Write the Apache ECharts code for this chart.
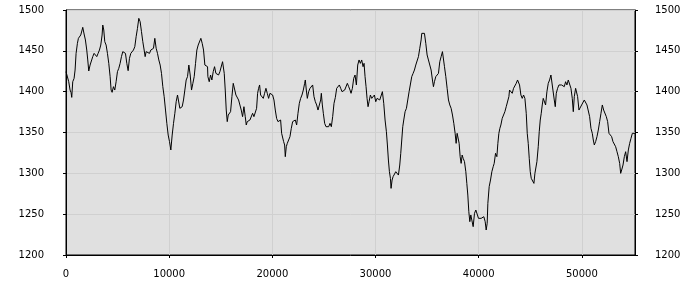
<!DOCTYPE html>
<html>
<head>
<meta charset="utf-8">
<script src="https://cdn.jsdelivr.net/npm/echarts@6/dist/echarts.min.js"></script>
<style>html,body{margin:0;padding:0;background:#fff}#c{width:700px;height:300px}</style>
</head>
<body>
<div id="c"></div>
<script>
var xValues = [0,136,265,395,492,557,654,783,880,977,1106,1203,1300,1430,1559,1624,1753,1882,2012,2109,2206,2335,2497,2594,2723,2853,2982,3111,3241,3370,3499,3564,3661,3758,3888,4017,4146,4276,4373,4470,4599,4728,4858,4987,5116,5246,5375,5505,5634,5763,5893,6022,6151,6281,6410,6539,6669,6798,6927,7057,7186,7316,7445,7574,7671,7768,7898,8092,8221,8350,8480,8609,8739,8868,8997,9127,9256,9385,9515,9644,9773,9903,10032,10161,10291,10420,10550,10679,10808,10938,11035,11132,11261,11390,11520,11649,11778,11908,12037,12167,12296,12425,12555,12684,12813,12943,13072,13201,13331,13460,13590,13719,
13752,13882,14011,14140,14270,14399,14529,14658,14787,14917,15046,15175,15240,15337,15434,15531,15628,15725,15822,15951,16081,16210,16340,16469,16598,16728,16857,16986,17116,17245,17374,17471,17568,17698,17827,17957,18086,18215,18345,18474,18571,18668,18765,18862,18991,19121,19250,19379,19509,19638,19768,19897,20026,20156,20285,20414,20544,20673,20802,20900,20997,21094,21191,21255,21352,21449,21579,21708,21837,21967,22096,22225,22355,22484,22614,22743,22872,23002,23131,23196,23293,23390,23519,23648,23778,23907,24036,24166,24295,24425,24554,24683,24748,24845,24942,25071,25201,25330,25459,25589,25718,25848,25977,26106,26236,26365,26494,26624,26753,26882,27012,27141,27270,27400,27529,
27627,27757,27886,28015,28145,28274,28404,28533,28662,28792,28889,28986,29083,29180,29277,29374,29503,29632,29762,29891,30021,30150,30279,30409,30538,30667,30797,30926,31055,31152,31249,31346,31443,31508,31605,31702,31832,31961,32090,32220,32349,32446,32543,32640,32737,32866,32996,33125,33255,33384,33513,33643,33772,33901,34031,34160,34289,34419,34483,34613,34742,34872,35001,35130,35260,35389,35518,35615,35712,35842,35971,36100,36230,36359,36489,36586,36683,36812,36941,37071,37200,37329,37459,37588,37717,37814,37911,38008,38106,38203,38300,38397,38494,38623,38752,38849,38946,39043,39140,39237,39334,39464,39593,39723,39852,39981,40111,40240,40369,40499,40628,40725,40822,40887,41016,41145,41275,41404,
41503,41633,41762,41859,41956,42053,42150,42280,42409,42538,42668,42797,42926,42991,43120,43250,43379,43508,43638,43767,43864,43961,44091,44220,44349,44479,44608,44705,44802,44899,44996,45093,45222,45352,45449,45546,45643,45772,45869,45966,46063,46160,46257,46354,46484,46613,46742,46872,47001,47098,47195,47325,47422,47519,47648,47777,47907,48036,48165,48295,48424,48553,48683,48812,48942,49071,49168,49265,49394,49491,49588,49718,49847,49976,50106,50235,50365,50494,50623,50753,50882,51011,51108,51205,51335,51464,51593,51723,51852,51982,52111,52240,52370,52499,52628,52758,52887,53016,53146,53275,53404,53534,53663,53760,53857,53987,54116,54245,54375,54504,54633,54763,54892,55021,55150];

var yValues = [1424.5,1422.4,1412.2,1402.0,1398.8,1393.0,1412.2,1416.3,1426.5,1446.9,1459.2,1465.3,1463.3,1469.4,1475.5,1478.8,1470.6,1463.3,1451.0,1438.8,1425.3,1432.6,1434.7,1442.9,1446.9,1444.9,1442.9,1446.9,1451.0,1457.1,1469.4,1481.6,1475.5,1461.2,1457.1,1446.9,1434.7,1418.4,1402.0,1399.2,1406.1,1402.0,1412.2,1424.5,1428.6,1434.7,1442.9,1449.0,1450.2,1446.9,1434.7,1425.7,1440.8,1446.9,1446.9,1451.0,1455.1,1467.3,1477.5,1489.8,1485.7,1473.5,1461.2,1451.0,1442.9,1449.0,1446.9,1446.9,1451.0,1453.1,1453.1,1465.3,1453.1,1446.9,1438.8,1432.6,1422.4,1406.1,1393.9,1377.5,1361.2,1346.9,1338.8,1328.6,1346.9,1361.2,1373.5,1387.7,1395.9,1398.0,1379.6,1377.5,1381.6,1389.8,1402.0,1414.3,1418.4,1432.6,1420.4,1402.0,1410.2,1418.4,1434.7,1451.0,1457.1,1459.2,1465.3,1459.2,1451.0,1432.6,1434.7,1430.6,
1418.4,1412.2,1420.4,1414.3,1424.5,1430.6,1422.4,1424.5,1420.4,1424.5,1426.5,1436.7,1438.8,1422.4,1402.0,1377.5,1363.3,1371.4,1369.4,1375.5,1393.9,1410.2,1408.2,1395.9,1398.0,1389.8,1387.7,1377.5,1369.4,1381.6,1369.4,1359.2,1363.3,1363.3,1365.3,1365.3,1373.5,1369.4,1367.3,1379.6,1398.0,1404.1,1408.2,1395.9,1398.0,1391.8,1398.0,1404.1,1398.0,1391.8,1398.0,1395.9,1395.9,1389.8,1377.5,1367.3,1363.3,1361.2,1365.3,1349.0,1346.9,1338.8,1334.7,1320.4,1332.6,1336.7,1336.7,1344.9,1355.1,1363.3,1361.2,1365.3,1359.2,1373.5,1385.7,1391.8,1395.9,1402.0,1410.2,1414.3,1402.0,1391.8,1400.0,1404.1,1406.1,1408.2,1393.9,1387.7,1383.7,1377.5,1375.5,1389.8,1398.0,1383.7,1373.5,1361.2,1357.1,1359.2,1357.1,1361.2,1357.1,1369.4,1385.7,1393.0,1404.1,1406.1,1408.2,1404.1,1400.0,1398.0,1402.0,1404.1,1410.2,1406.1,1402.0,
1398.0,1404.1,1416.3,1420.4,1408.2,1432.6,1438.8,1434.7,1438.8,1430.6,1434.7,1418.4,1406.1,1391.8,1381.6,1387.7,1395.9,1391.8,1393.9,1395.9,1387.7,1391.8,1393.9,1389.8,1391.8,1400.0,1385.7,1365.3,1351.0,1334.7,1316.3,1302.0,1293.9,1281.6,1291.8,1295.9,1297.9,1302.0,1300.0,1297.9,1310.2,1324.5,1340.8,1357.1,1365.3,1375.5,1379.6,1389.8,1400.0,1400.0,1418.4,1422.4,1426.5,1432.6,1434.7,1442.9,1453.1,1463.3,1471.4,1469.4,1471.4,1459.2,1444.9,1438.8,1436.7,1426.5,1414.3,1406.1,1412.2,1418.4,1420.4,1422.4,1436.7,1442.9,1449.0,1451.0,1430.6,1418.4,1404.1,1389.8,1383.7,1379.6,1371.4,1361.2,1349.0,1336.7,1349.0,1351.0,1336.7,1320.4,1312.2,1322.4,1318.4,1314.3,1302.0,1287.7,1273.4,1253.0,1240.8,1249.0,1242.8,1234.7,1251.0,1255.1,1253.0,1244.9,1246.9,1244.9,1242.8,1246.9,1240.8,1230.6,1238.8,1263.2,1283.7,1291.8,1302.0,1308.1,
1312.2,1324.5,1320.4,1336.7,1349.0,1355.1,1359.2,1367.3,1369.4,1375.5,1381.6,1383.7,1393.9,1402.0,1400.0,1398.0,1404.1,1406.1,1410.2,1414.3,1413.1,1408.2,1395.9,1391.8,1395.9,1391.8,1373.5,1349.0,1336.7,1318.4,1302.0,1293.9,1291.8,1287.7,1300.0,1302.0,1314.3,1332.6,1351.0,1365.3,1373.5,1383.7,1391.8,1389.8,1383.7,1400.0,1410.2,1414.3,1420.4,1418.4,1402.0,1389.8,1381.6,1398.0,1404.1,1408.2,1408.2,1408.2,1410.2,1406.1,1412.2,1408.2,1414.3,1416.3,1404.1,1391.8,1375.5,1393.9,1404.1,1406.1,1393.9,1377.5,1375.5,1383.7,1385.7,1389.8,1387.7,1383.7,1383.7,1369.4,1355.1,1349.0,1340.8,1334.7,1338.8,1344.9,1353.0,1363.3,1373.5,1383.7,1377.5,1375.5,1369.4,1363.3,1349.0,1346.9,1344.9,1338.8,1336.7,1332.6,1326.5,1320.4,1312.2,1300.0,1304.1,1310.2,1320.4,1326.5,1314.3,1328.6,1336.7,1342.9,1349.0,1351.0,1349.0];

var yTicks = [1200, 1500, 50];
var xTicks = [0, 10000];

var points = xValues.map(function (x, i) { return [x, yValues[i]]; });

var fontFamily = 'DejaVu Sans';
var plain = function (v) { return String(v); };
var labelStyle = { color: '#000', fontFamily: fontFamily, fontSize: 10, formatter: plain };

function yAxisDef(pos, margin, grid) {
  return {
    type: 'value', position: pos,
    min: yTicks[0], max: yTicks[1], interval: yTicks[2],
    axisLine: { show: true, onZero: false, lineStyle: { color: '#000', width: 1 } },
    axisTick: { show: true, length: 3, inside: false, lineStyle: { color: '#000' } },
    axisLabel: Object.assign({ margin: margin }, labelStyle),
    splitLine: { show: grid, lineStyle: { color: '#d0d0d0', width: 1 } }
  };
}

var chart = echarts.init(document.getElementById('c'), null, { renderer: 'canvas' });
chart.setOption({
  animation: false,
  backgroundColor: '#fff',
  grid: {
    left: 66, right: 65, top: 10, bottom: 45,
    containLabel: false,
    show: true, backgroundColor: '#e0e0e0', borderColor: '#000', borderWidth: 1
  },
  xAxis: {
    type: 'value', min: xTicks[0], max: 'dataMax', interval: xTicks[1],
    axisLine: { show: true, onZero: false, lineStyle: { color: '#000', width: 1 } },
    axisTick: { show: true, length: 3, lineStyle: { color: '#000' } },
    axisLabel: Object.assign({ margin: 14, showMaxLabel: false }, labelStyle),
    splitLine: { show: true, lineStyle: { color: '#d0d0d0', width: 1 } }
  },
  yAxis: [yAxisDef('left', 22, true), yAxisDef('right', 20, false)],
  series: [{
    type: 'line', data: points, showSymbol: false, symbol: 'none',
    lineStyle: { color: '#000', width: 1 }, smooth: false
  }]
});
</script>
</body>
</html>
